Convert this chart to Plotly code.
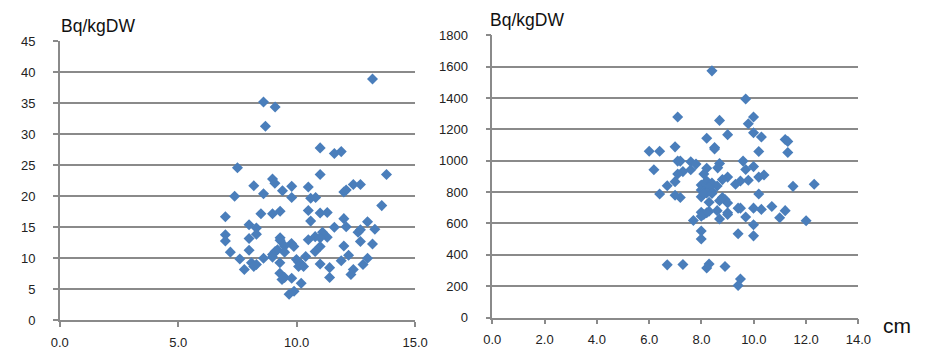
import plotly.graph_objects as go

# Left chart data (length cm, Bq/kgDW)
left_x = [13.2, 8.6, 9.09, 8.68, 10.99, 11.59, 11.88, 7.5, 10.99, 13.79, 8.98, 9.08, 8.19, 9.79, 10.49,
          12.39, 12.69, 9.4, 12.09, 11.99, 7.38, 8.6, 9.79, 10.59, 10.8, 13.59, 6.99, 8.49, 8.98, 9.3,
          10.49, 10.99, 11.29, 10.59, 11.99, 12.99, 7.99, 8.3, 11.59, 12.09, 13.3, 6.99, 8.3, 12.59, 12.69,
          11.09, 10.78, 11.29, 10.99, 9.3, 9.3, 7.99, 10.49, 6.99, 12.69, 9.78, 9.88, 9.49, 10.99, 11.99,
          13.2, 9.19, 9.09, 7.99, 7.2, 9.49, 10.78, 8.98, 8.98, 10.38, 12.19, 7.6, 8.6, 9.99, 12.99,
          11.88, 8.09, 9.29, 10.08, 10.19, 10.99, 8.3, 8.19, 10.08, 10.29, 12.8, 11.39, 7.79, 12.39, 12.29,
          9.29, 9.49, 9.38, 9.79, 11.39, 10.19, 9.89, 9.68]
left_y = [38.9, 35.2, 34.4, 31.3, 27.8, 26.9, 27.2, 24.6, 23.5, 23.5, 22.8, 22.1, 21.7, 21.6, 21.5,
          21.9, 21.9, 20.9, 21.0, 20.7, 20.0, 20.4, 19.8, 19.7, 19.8, 18.5, 16.7, 17.2, 17.2, 17.6,
          17.7, 17.3, 17.4, 16.0, 16.4, 15.9, 15.4, 14.9, 15.0, 15.1, 14.7, 13.8, 13.9, 14.2, 14.6,
          14.2, 13.5, 13.4, 13.3, 13.3, 12.9, 13.2, 13.0, 12.8, 12.7, 12.4, 11.9, 12.0, 11.9, 12.0,
          12.3, 11.4, 11.1, 11.3, 11.0, 11.0, 11.1, 10.6, 10.2, 10.3, 10.5, 9.9, 10.0, 9.8, 10.0,
          9.6, 9.3, 9.3, 9.4, 9.1, 9.1, 9.0, 8.7, 8.7, 8.7, 9.0, 8.5, 8.2, 8.2, 7.4,
          7.6, 6.9, 6.6, 6.8, 6.9, 6.0, 4.7, 4.2]

# Right chart data
right_x = [8.4, 9.69, 7.09, 9.99, 8.69, 9.79, 9.99, 9.0, 10.29, 8.2, 11.2, 11.3, 8.5, 8.5, 6.99,
           6.0, 6.4, 10.19, 11.3, 7.09, 7.19, 7.59, 9.59, 7.79, 8.69, 9.99, 8.62, 8.2, 6.18, 7.59,
           9.69, 7.29, 7.09, 8.09, 10.39, 9.0, 10.19, 8.8, 9.79, 9.49, 6.99, 8.2, 9.3, 8.4, 12.31,
           6.69, 7.99, 8.6, 11.5, 8.29, 7.99, 8.09, 8.4, 6.4, 8.2, 10.19, 6.99, 7.99, 7.19, 8.8,
           8.9, 8.69, 9.0, 8.29, 10.69, 9.4, 9.49, 9.99, 10.29, 11.2, 8.6, 7.99, 8.29, 9.0, 8.09,
           8.2, 9.0, 7.99, 9.69, 10.99, 8.69, 7.69, 12.0, 9.99, 7.99, 9.4, 9.99, 7.99, 6.69, 7.29,
           8.29, 8.2, 8.9, 9.49, 9.4, 8.09, 8.4]
right_y = [1574, 1395, 1279, 1279, 1258, 1236, 1179, 1167, 1152, 1144, 1136, 1124, 1085, 1075, 1089,
           1061, 1061, 1059, 1053, 998, 998, 994, 998, 979, 983, 963, 955, 953, 943, 943,
           945, 931, 916, 916, 910, 896, 896, 880, 876, 871, 867, 871, 851, 859, 851,
           841, 845, 839, 837, 829, 814, 804, 806, 788, 794, 788, 780, 770, 766, 766,
           753, 745, 731, 735, 708, 698, 698, 698, 690, 682, 682, 672, 678, 668, 658,
           668, 658, 647, 641, 637, 629, 619, 617, 592, 552, 535, 521, 501, 336, 338,
           342, 316, 326, 246, 204, 790, 792]

left_xticks = [0, 5, 10, 15]
right_xticks = [0, 2, 4, 6, 8, 10, 12, 14]

W, H = 929, 353
GRID = "#8a8a8a"
MARK = "#4a7ebb"
FONT = "Liberation Sans"
TICKFONT = dict(family=FONT, size=13, color="#222")

fig = go.Figure()
marker = dict(symbol="diamond", size=8.5, color=MARK, line=dict(width=0))
fig.add_trace(go.Scatter(x=left_x, y=left_y, mode="markers", marker=marker,
                         xaxis="x", yaxis="y", showlegend=False))
fig.add_trace(go.Scatter(x=right_x, y=right_y, mode="markers", marker=marker,
                         xaxis="x2", yaxis="y2", showlegend=False))

def xax(dom, rng, ticks, anchor):
    return dict(domain=dom, range=rng, anchor=anchor, tickvals=ticks,
                ticktext=[f"{t:.1f}" for t in ticks], showgrid=False, zeroline=False,
                showline=True, linecolor=GRID, linewidth=1.5, ticks="outside",
                ticklen=5, tickcolor=GRID, tickwidth=1.5, ticklabelstandoff=4,
                tickfont=TICKFONT, fixedrange=True)

def yax(dom, rng, dtick, anchor):
    return dict(domain=dom, range=rng, anchor=anchor, dtick=dtick, showgrid=True,
                gridcolor=GRID, gridwidth=1.5, zeroline=False, showline=True,
                linecolor=GRID, linewidth=1.5, ticks="outside", ticklen=5,
                tickcolor=GRID, tickwidth=1.5, ticklabelstandoff=15,
                tickfont=TICKFONT, fixedrange=True)

fig.update_layout(
    width=W, height=H, margin=dict(l=0, r=0, t=0, b=0),
    paper_bgcolor="white", plot_bgcolor="white",
    xaxis=xax([52 / W, 416 / W], [0, 15], left_xticks, "y"),
    yaxis=yax([1 - 327.3 / H, 1 - 35.7 / H], [0, 45], 5, "x"),
    xaxis2=xax([495 / W, 870 / W], [0, 14], right_xticks, "y2"),
    yaxis2=yax([1 - 324.3 / H, 1 - 29.7 / H], [0, 1800], 200, "x2"),
    annotations=[
        dict(text="Bq/kgDW", x=51 / W, y=1 - 20 / H, xref="paper", yref="paper",
             xanchor="left", yanchor="middle", showarrow=False,
             font=dict(family=FONT, size=17.5, color="#111")),
        dict(text="Bq/kgDW", x=491 / W, y=1 - 14 / H, xref="paper", yref="paper",
             xanchor="left", yanchor="middle", showarrow=False,
             font=dict(family=FONT, size=17.5, color="#111")),
        dict(text="cm", x=893 / W, y=1 - 333 / H, xref="paper", yref="paper",
             xanchor="left", yanchor="middle", showarrow=False,
             font=dict(family=FONT, size=21, color="#111")),
    ],
)

fig.write_html("out.html")
